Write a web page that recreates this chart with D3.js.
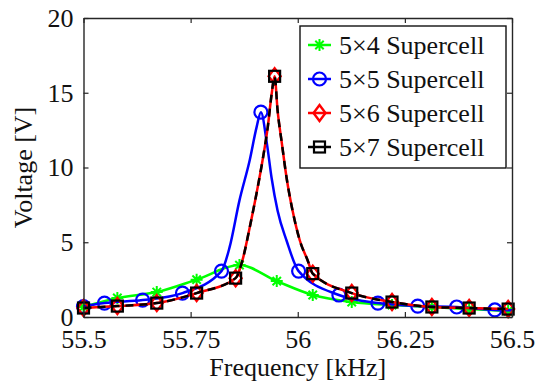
<!DOCTYPE html>
<html><head><meta charset="utf-8">
<script src="https://cdn.jsdelivr.net/npm/d3@7/dist/d3.min.js"></script>
<style>
html,body{margin:0;padding:0;background:#fff;}
svg text{font-family:'Liberation Serif', Tinos, 'Times New Roman', Times, 'DejaVu Serif', serif;}
</style></head>
<body><svg id="c" width="540" height="388"></svg>
<script>
// ---- data (frequency kHz, voltage V) ----
const xTicks = [55.5, 55.75, 56, 56.25, 56.5];
const yTicks = [0, 5, 10, 15, 20];
const seriesNames = ["5\u00d74 Supercell", "5\u00d75 Supercell", "5\u00d76 Supercell", "5\u00d77 Supercell"];

const f54 = [55.500, 55.579, 55.671, 55.764, 55.864, 55.951, 56.035, 56.126, 56.220, 56.313, 56.400, 56.491];
const v54 = [0.67, 1.27, 1.67, 2.50, 3.47, 2.40, 1.47, 1.00, 0.80, 0.67, 0.53, 0.40];
const m54 = [0,1,2,3,4,5,6,7,8,9,10,11];

const f55 = [55.500, 55.549, 55.638, 55.731, 55.822, 55.841, 55.864, 55.888, 55.904, 55.914, 55.928, 55.939, 55.953, 55.974, 56.002, 56.096, 56.187, 56.280, 56.371, 56.460, 56.500];
const v55 = [0.70, 0.93, 1.13, 1.60, 3.07, 4.67, 7.80, 10.50, 12.70, 13.70, 11.60, 9.30, 7.10, 5.10, 3.07, 1.47, 0.93, 0.73, 0.67, 0.47, 0.45];
const m55 = [0,1,2,3,4,9,14,15,16,17,18,19];

const f56 = [55.500, 55.579, 55.671, 55.764, 55.855, 55.871, 55.888, 55.904, 55.918, 55.930, 55.939, 55.946, 55.953, 55.963, 55.974, 55.988, 56.005, 56.023, 56.035, 56.126, 56.220, 56.313, 56.400, 56.491];
const v56 = [0.60, 0.73, 0.93, 1.60, 2.60, 3.80, 6.00, 8.30, 10.50, 12.70, 14.90, 16.10, 13.80, 11.60, 9.30, 7.10, 5.10, 3.80, 2.90, 1.60, 1.00, 0.67, 0.60, 0.53];
const m56 = [0,1,2,3,4,11,18,19,20,21,22,23];

const f57 = [55.500, 55.579, 55.671, 55.764, 55.855, 55.871, 55.888, 55.904, 55.918, 55.930, 55.939, 55.946, 55.953, 55.963, 55.974, 55.988, 56.005, 56.023, 56.035, 56.126, 56.220, 56.313, 56.400, 56.491];
const v57 = [0.60, 0.73, 0.93, 1.60, 2.60, 3.80, 6.00, 8.30, 10.50, 12.70, 14.90, 16.10, 13.80, 11.60, 9.30, 7.10, 5.10, 3.80, 2.90, 1.60, 1.00, 0.67, 0.60, 0.53];
const m57 = [0,1,2,3,4,11,18,19,20,21,22,23];

const colors = ["#00ff00", "#0000ff", "#ff0000", "#000000"];
const markers = ["asterisk", "circle", "diamond", "square"];

// ---- layout ----
const L = 83.5, R = 512, T = 18, B = 317;
const FONT = "'Liberation Serif', Tinos, 'Times New Roman', Times, 'DejaVu Serif', serif";
const svg = d3.select("#c");
const x = d3.scaleLinear().domain([55.5, 56.5]).range([L, R]);
const y = d3.scaleLinear().domain([0, 20]).range([B, T]);
const axisColor = "#262626";

svg.append("rect").attr("x", L).attr("y", T).attr("width", R - L).attr("height", B - T)
  .attr("fill", "#fff").attr("stroke", "none");

const series = [
  {f: f54, v: v54, m: m54}, {f: f55, v: v55, m: m55},
  {f: f56, v: v56, m: m56}, {f: f57, v: v57, m: m57}
];

const line = d3.line().x(d => x(d[0])).y(d => y(d[1])).curve(d3.curveMonotoneX);

function drawMarker(g, type, cx, cy, col) {
  if (type === "circle") {
    g.append("circle").attr("cx", cx).attr("cy", cy).attr("r", 6.5)
      .attr("fill", "none").attr("stroke", col).attr("stroke-width", 2.2);
  } else if (type === "square") {
    g.append("rect").attr("x", cx - 5.5).attr("y", cy - 5.5).attr("width", 11).attr("height", 11)
      .attr("fill", "none").attr("stroke", col).attr("stroke-width", 2.2);
  } else if (type === "diamond") {
    g.append("path").attr("d", `M${cx},${cy-8}L${cx+6},${cy}L${cx},${cy+8}L${cx-6},${cy}Z`)
      .attr("fill", "none").attr("stroke", col).attr("stroke-width", 2.4);
  } else {
    const s = 6;
    g.append("path").attr("d",
      `M${cx-s},${cy}L${cx+s},${cy}M${cx},${cy-s}L${cx},${cy+s}M${cx-s*0.7},${cy-s*0.7}L${cx+s*0.7},${cy+s*0.7}M${cx-s*0.7},${cy+s*0.7}L${cx+s*0.7},${cy-s*0.7}`)
      .attr("stroke", col).attr("stroke-width", 2);
  }
}

const plot = svg.append("g");
series.forEach((s, i) => {
  const pts = s.f.map((fv, k) => [fv, s.v[k]]);
  const g = plot.append("g");
  g.append("path").attr("d", line(pts)).attr("fill", "none")
    .attr("stroke", colors[i]).attr("stroke-width", 2.5)
    .attr("stroke-dasharray", i === 3 ? "8,6" : null);
  s.m.forEach(k => drawMarker(g, markers[i], x(pts[k][0]), y(pts[k][1]), colors[i]));
});

const fmt = d => String(d);
const gx = svg.append("g").attr("transform", `translate(0,${B})`)
  .call(d3.axisBottom(x).tickValues(xTicks).tickFormat(fmt).tickSizeInner(-5).tickSizeOuter(0).tickPadding(13));
const gy = svg.append("g").attr("transform", `translate(${L},0)`)
  .call(d3.axisLeft(y).tickValues(yTicks).tickSizeInner(-5).tickSizeOuter(0).tickPadding(10));
const gt = svg.append("g").attr("transform", `translate(0,${T})`)
  .call(d3.axisTop(x).tickValues(xTicks).tickFormat("").tickSizeInner(-5).tickSizeOuter(0));
const gr = svg.append("g").attr("transform", `translate(${R},0)`)
  .call(d3.axisRight(y).tickValues(yTicks).tickFormat("").tickSizeInner(-5).tickSizeOuter(0));
[gx, gy, gt, gr].forEach(g => {
  g.attr("font-family", FONT).attr("font-size", 26);
  g.selectAll("path.domain").attr("stroke", axisColor).attr("stroke-width", 1.4);
  g.selectAll(".tick line").attr("stroke", axisColor).attr("stroke-width", 1.2);
  g.selectAll("text").attr("font-size", 26).attr("fill", "#111").style("font-family", FONT);
});

svg.append("text").attr("x", (L + R) / 2).attr("y", 376).attr("text-anchor", "middle")
  .style("font-family", FONT).attr("font-size", 26).attr("fill", "#111").text("Frequency [kHz]");
svg.append("text").attr("transform", `translate(32,${(T + B) / 2}) rotate(-90)`)
  .style("font-family", FONT).attr("text-anchor", "middle").attr("font-size", 26).attr("fill", "#111").text("Voltage [V]");

const lg = svg.append("g");
lg.append("rect").attr("x", 300).attr("y", 26).attr("width", 206).attr("height", 142)
  .attr("fill", "#fff").attr("stroke", "#111").attr("stroke-width", 1.4);
seriesNames.forEach((name, i) => {
  const cy = 45 + i * 34;
  lg.append("line").attr("x1", 308).attr("x2", 331).attr("y1", cy).attr("y2", cy)
    .attr("stroke", colors[i]).attr("stroke-width", 2.5);
  drawMarker(lg, markers[i], 319.5, cy, colors[i]);
  lg.append("text").attr("x", 339).attr("y", cy + 9).style("font-family", FONT)
    .attr("font-size", 26).attr("fill", "#111").text(name);
});
</script></body></html>
